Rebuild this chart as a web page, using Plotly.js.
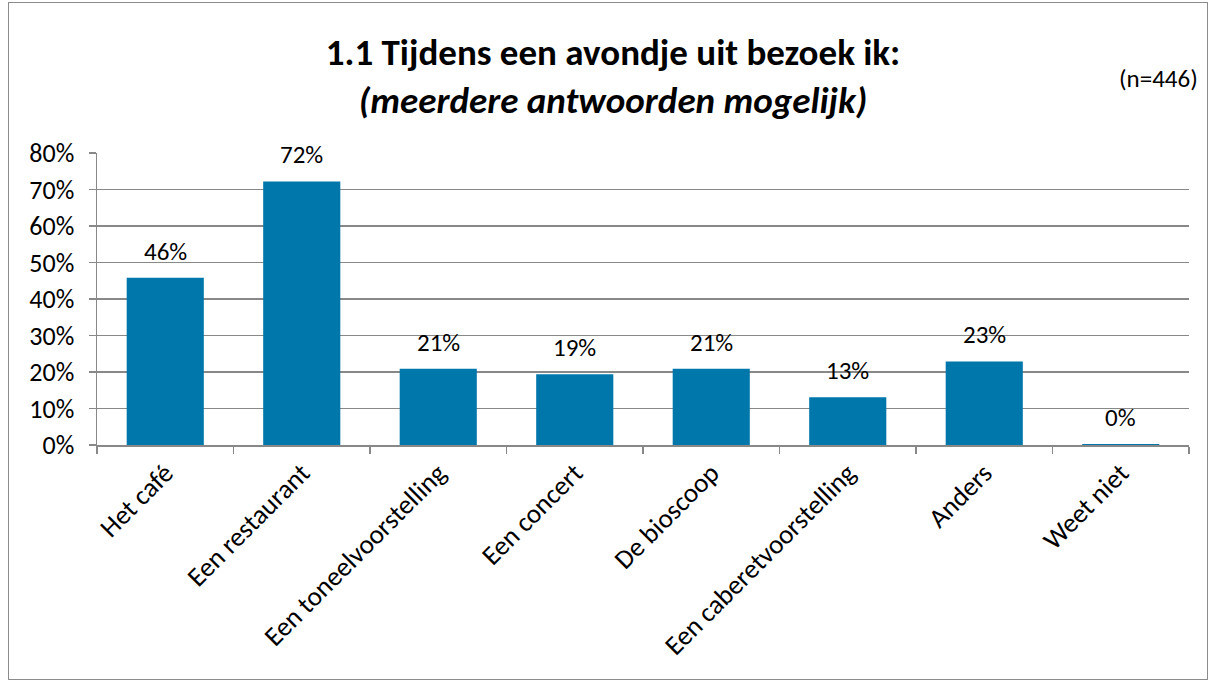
<!DOCTYPE html>
<html>
<head>
<meta charset="utf-8">
<script src="https://cdn.plot.ly/plotly-3.0.1.min.js"></script>
<style>
  html, body { margin: 0; padding: 0; background: #fff; }
  #wrap { position: relative; width: 1214px; height: 684px; }
  #frame { position: absolute; left: 8px; top: 2px; width: 1200px; height: 678px; border: 1.5px solid #8c8c8c; box-sizing: border-box; pointer-events: none; z-index: 5; }
  #chart { position: absolute; left: 0; top: 0; width: 1214px; height: 684px; }
</style>
</head>
<body>
<div id="wrap"><div id="chart"></div><div id="frame"></div></div>
<script>
const categories = ["Het café", "Een restaurant", "Een toneelvoorstelling", "Een concert", "De bioscoop", "Een caberetvoorstelling", "Anders", "Weet niet"];
const values = [45.8, 72.2, 20.9, 19.4, 20.9, 13.1, 22.9, 0.3];
const valueLabels = ["46%", "72%", "21%", "19%", "21%", "13%", "23%", "0%"];
const titleLine1 = "1.1 Tijdens een avondje uit bezoek ik:";
const titleLine2 = "(meerdere antwoorden mogelijk)";
const sampleNote = "(n=446)";

const FONT = "Carlito, Lato, 'Open Sans', sans-serif";

const trace = {
  type: "bar",
  x: categories,
  y: values,
  marker: { color: "#0077AB" },
  hoverinfo: "x+y"
};

const valueAnnotations = categories.map((c, i) => ({
  x: c, y: values[i], xref: "x", yref: "y",
  text: valueLabels[i],
  showarrow: false,
  yanchor: "bottom", yshift: 9,
  font: { family: FONT, size: 25, color: "#000" }
}));

const layout = {
  width: 1214,
  height: 684,
  margin: { l: 97, r: 25, t: 153, b: 239 },
  paper_bgcolor: "#fff",
  plot_bgcolor: "#fff",
  bargap: 0.435,
  showlegend: false,
  font: { family: FONT, color: "#000" },
  title: {
    text: "<b>" + titleLine1 + "</b><br><b><i>" + titleLine2 + "</i></b>",
    font: { family: FONT, size: 37, color: "#000" },
    x: 0.505, xanchor: "center",
    y: 0.905, yanchor: "middle"
  },
  annotations: valueAnnotations.concat([{
    text: sampleNote,
    xref: "paper", yref: "paper",
    x: 1.01, y: 1.255, xanchor: "right", yanchor: "middle",
    showarrow: false,
    font: { family: FONT, size: 25, color: "#000" }
  }]),
  xaxis: {
    type: "category",
    tickangle: -45,
    tickfont: { family: FONT, size: 27, color: "#000" },
    showline: true, linecolor: "#888", linewidth: 1.5,
    ticks: "outside", tickson: "boundaries", ticklen: 7, tickcolor: "#888", tickwidth: 1.5,
    showgrid: false,
    fixedrange: true
  },
  yaxis: {
    range: [0, 80],
    dtick: 10,
    ticksuffix: "%",
    tickfont: { family: FONT, size: 26, color: "#000" },
    ticklabelstandoff: 9,
    showline: true, linecolor: "#888", linewidth: 1.5,
    ticks: "outside", ticklen: 7, tickcolor: "#888", tickwidth: 1.5,
    showgrid: true, gridcolor: "#888", gridwidth: 1.5,
    zeroline: false,
    fixedrange: true
  }
};

Plotly.newPlot("chart", [trace], layout, { displayModeBar: false, staticPlot: true });
</script>
</body>
</html>
